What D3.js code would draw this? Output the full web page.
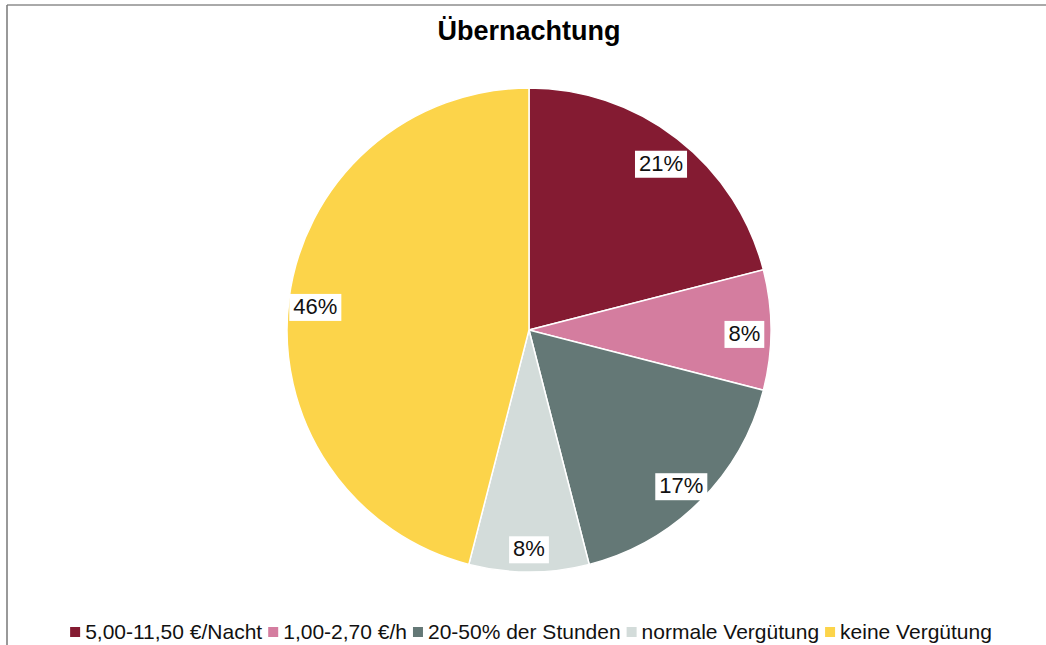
<!DOCTYPE html>
<html>
<head>
<meta charset="utf-8">
<script src="https://cdn.jsdelivr.net/npm/d3@7"></script>
<style>
  body { margin: 0; background: #fff; }
  text { font-family: "Liberation Sans", Arial, sans-serif; }
</style>
</head>
<body>
<div id="chart"></div>
<script>
// Data
const categories = ["5,00-11,50 €/Nacht", "1,00-2,70 €/h", "20-50% der Stunden", "normale Vergütung", "keine Vergütung"];
const values = [21, 8, 17, 8, 46];
const colors = ["#841b32", "#d47d9f", "#647876", "#d3dcda", "#fcd44a"];

const width = 1046, height = 645;
const cx = 529, cy = 330, radius = 242;

const svg = d3.select("#chart")
    .append("svg")
    .attr("width", width)
    .attr("height", height);

// frame lines (top and left visible)
svg.append("line").attr("x1", 7).attr("y1", 5).attr("x2", width).attr("y2", 5)
    .attr("stroke", "#555").attr("stroke-width", 1);
svg.append("line").attr("x1", 7).attr("y1", 5).attr("x2", 7).attr("y2", height)
    .attr("stroke", "#777").attr("stroke-width", 1.5);

// Title
svg.append("text")
    .attr("x", 529)
    .attr("y", 40)
    .attr("text-anchor", "middle")
    .style("font-size", "27px")
    .style("font-weight", "bold")
    .text("Übernachtung");

const pie = d3.pie().sort(null).value(d => d);
const arcs = pie(values);
const arc = d3.arc().innerRadius(0).outerRadius(radius);
const labelArc = d3.arc().innerRadius(radius * 0.89).outerRadius(radius * 0.89);

const g = svg.append("g").attr("transform", `translate(${cx},${cy})`);

g.selectAll("path")
    .data(arcs)
    .enter()
    .append("path")
    .attr("d", arc)
    .attr("fill", (d, i) => colors[i])
    .attr("stroke", "#fff")
    .attr("stroke-width", 1.5);

// Labels with white boxes
const labels = g.selectAll("g.lbl")
    .data(arcs)
    .enter()
    .append("g")
    .attr("class", "lbl")
    .attr("transform", d => {
        const [x, y] = labelArc.centroid(d);
        return `translate(${x},${y + 3})`;
    });

labels.append("text")
    .attr("text-anchor", "middle")
    .attr("dy", "0.36em")
    .style("font-size", "22px")
    .attr("fill", "#111")
    .text(d => d.data + "%");

labels.each(function() {
    const t = d3.select(this).select("text");
    const b = t.node().getBBox();
    d3.select(this).insert("rect", "text")
        .attr("x", b.x - 4)
        .attr("y", b.y)
        .attr("width", b.width + 8)
        .attr("height", b.height + 2)
        .attr("fill", "#fff");
});

// Legend
const legend = svg.append("g");
let xPos = 0;
categories.forEach((c, i) => {
    const item = legend.append("g").attr("transform", `translate(${xPos},0)`);
    item.append("rect")
        .attr("x", 0).attr("y", -12)
        .attr("width", 10).attr("height", 10)
        .attr("fill", colors[i]);
    const t = item.append("text")
        .attr("x", 15).attr("y", 0)
        .style("font-size", "21px")
        .attr("fill", "#111")
        .text(c);
    xPos += 15 + t.node().getComputedTextLength() + 6;
});
const legendWidth = xPos - 6;
legend.attr("transform", `translate(${531 - legendWidth / 2},639)`);
</script>
</body>
</html>
